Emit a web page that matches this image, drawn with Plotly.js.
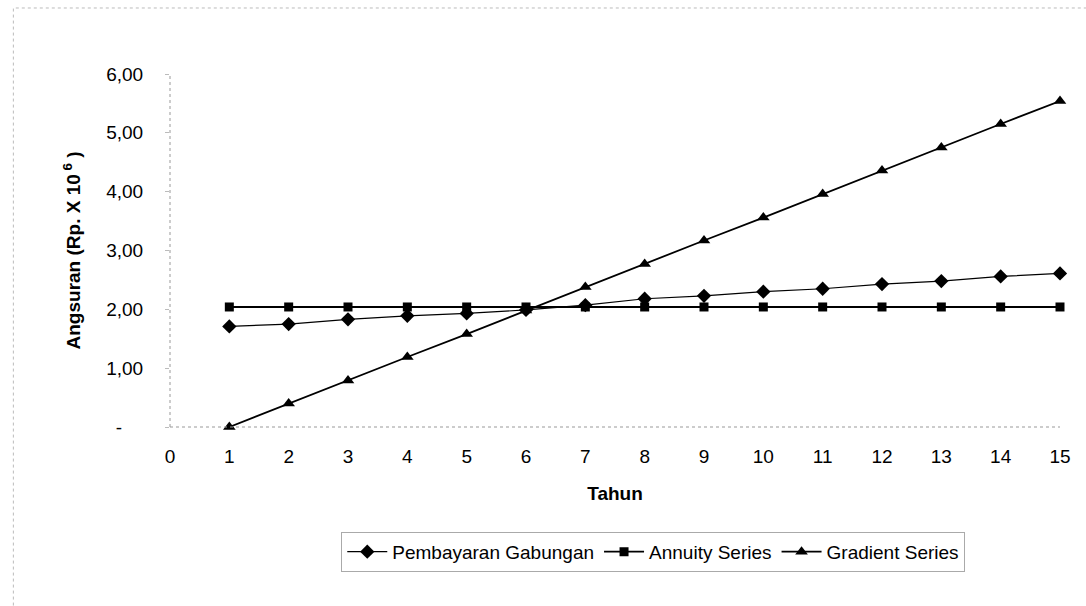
<!DOCTYPE html>
<html>
<head>
<meta charset="utf-8">
<script src="https://cdn.plot.ly/plotly-3.0.1.min.js"></script>
<style>html,body{margin:0;padding:0;background:#fff;}#chart{width:1086px;height:606px;}</style>
</head>
<body>
<div id="chart"></div>
<script>
const tahun = [1,2,3,4,5,6,7,8,9,10,11,12,13,14,15];
const pembayaranGabungan = [1.71,1.75,1.83,1.89,1.93,1.99,2.07,2.18,2.23,2.30,2.35,2.43,2.48,2.56,2.61];
const annuitySeries = [2.04,2.04,2.04,2.04,2.04,2.04,2.04,2.04,2.04,2.04,2.04,2.04,2.04,2.04,2.04];
const gradientSeries = [0,0.40,0.79,1.19,1.58,1.98,2.38,2.77,3.17,3.56,3.96,4.36,4.75,5.15,5.54];
const yTickVals = [0,1,2,3,4,5,6];
const yTickText = ['-\u2007\u2007','1,00','2,00','3,00','4,00','5,00','6,00'];
const xTickVals = [0,1,2,3,4,5,6,7,8,9,10,11,12,13,14,15];

const font = 'Liberation Sans, Arial, sans-serif';

const traces = [
  {x: tahun, y: pembayaranGabungan, name: 'Pembayaran Gabungan', mode: 'lines+markers',
   line: {color: '#000', width: 1.2}, marker: {symbol: 'diamond', size: 11, color: '#000'}, cliponaxis: false},
  {x: tahun, y: annuitySeries, name: 'Annuity Series', mode: 'lines+markers',
   line: {color: '#000', width: 1.8}, marker: {symbol: 'square', size: 9, color: '#000'}, cliponaxis: false},
  {x: tahun, y: gradientSeries, name: 'Gradient Series', mode: 'lines+markers',
   line: {color: '#000', width: 1.8}, marker: {symbol: 'triangle-up', size: 11, color: '#000'}, cliponaxis: false}
];

const layout = {
  width: 1086, height: 606,
  margin: {l: 170, r: 26, t: 74, b: 179},
  paper_bgcolor: '#fff', plot_bgcolor: '#fff',
  font: {family: font, size: 19, color: '#000'},
  showlegend: true,
  legend: {orientation: 'h', x: 0.543, xanchor: 'center', y: -0.297, yanchor: 'top',
           font: {family: font, size: 19, color: '#000'}, bordercolor: '#aaa', borderwidth: 1,
           bgcolor: '#fff', itemwidth: 40, traceorder: 'normal'},
  xaxis: {range: [0, 15], tickvals: xTickVals, showgrid: false, zeroline: false, showline: false,
          ticks: '', ticklabelstandoff: 16, tickfont: {size: 19, family: font},
          title: {text: '<b>Tahun</b>', font: {size: 19, family: font}, standoff: 20}},
  yaxis: {range: [0, 6], tickvals: yTickVals, ticktext: yTickText, showgrid: false, zeroline: false,
          showline: false, ticks: 'outside', ticklen: 4, tickcolor: '#bbb', ticklabelstandoff: 18,
          tickfont: {size: 19, family: font},
          title: {text: '<b>Angsuran (Rp. X 10<sup> 6</sup> )</b>', font: {size: 19, family: font}, standoff: 20}},
  shapes: [
    {type: 'line', xref: 'paper', yref: 'paper', x0: 0, x1: 1, y0: 0, y1: 0, line: {color: '#999', width: 1, dash: 'dot'}},
    {type: 'line', xref: 'paper', yref: 'paper', x0: 0, x1: 0, y0: 0, y1: 1, line: {color: '#999', width: 1, dash: 'dot'}},
    {type: 'rect', xref: 'paper', yref: 'paper', x0: -0.176, x1: 1.05, y0: -0.55, y1: 1.187, line: {color: '#bbb', width: 1, dash: 'dot'}}
  ]
};

Plotly.newPlot('chart', traces, layout, {staticPlot: true, displayModeBar: false});
</script>
</body>
</html>
